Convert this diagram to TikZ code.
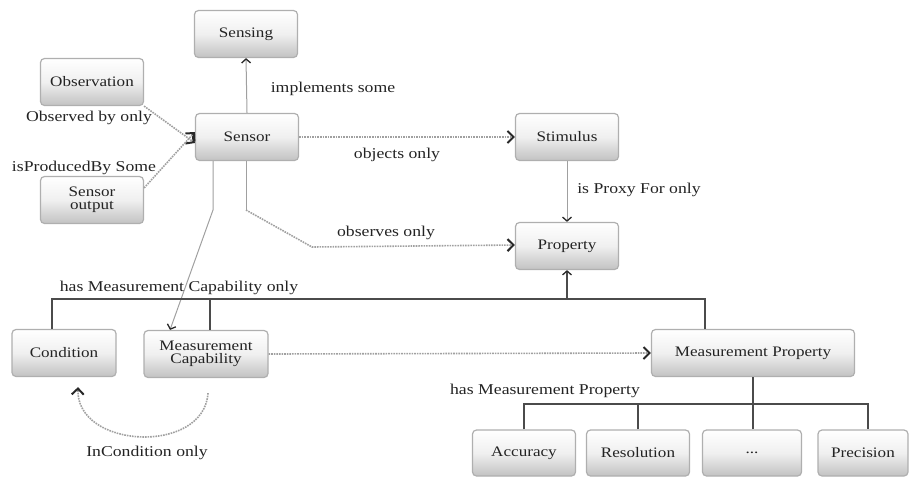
\documentclass[tikz,border=0pt]{standalone}
\usepackage{fontspec}
\setmainfont{Liberation Serif}[FakeStretch=1.18]
\usetikzlibrary{arrows.meta,calc}
\definecolor{txt}{RGB}{35,35,35}
\definecolor{nodeborder}{RGB}{175,175,175}
\definecolor{treeline}{RGB}{75,75,75}
\definecolor{thinline}{RGB}{160,160,160}
\definecolor{tipcol}{RGB}{40,40,40}
\tikzset{
  box/.style={draw=nodeborder, line width=1.2pt, rounded corners=4pt,
    top color=white, bottom color=black!24, middle color=black!6,
    minimum width=103pt, minimum height=47pt, align=center,
    text=txt, font=\fontsize{14.5}{15}\selectfont, inner sep=2pt},
  lbl/.style={text=txt, font=\fontsize{15}{16}\selectfont, inner sep=1pt},
  tip/.style={-{Straight Barb[length=4pt,width=9pt,line width=1.3pt,color=tipcol]}},
  dtip/.style={-{Straight Barb[length=6pt,width=12pt,line width=2pt,color=tipcol]}},
  dotline/.style={draw=thinline, densely dotted, line width=1.6pt},
  thin/.style={draw=thinline, line width=1pt},
  tree/.style={draw=treeline, line width=1.8pt},
}
\begin{document}
\begin{tikzpicture}[x=1pt,y=-1pt]
\useasboundingbox (0,0) rectangle (909,477);
% nodes
\node[box] (sensing) at (246,34) {Sensing};
\node[box] (observation) at (92,82) {Observation};
\node[box] (sensor) at (247,137) {Sensor};
\node[box, text width=80pt] (sensorout) at (92,200) {Sensor\\[-2pt]output};
\node[box] (stimulus) at (567,137) {Stimulus};
\node[box] (property) at (567,246) {Property};
\node[box, minimum width=104pt] (condition) at (64,353) {Condition};
\node[box, minimum width=124pt, text width=115pt] (mcap) at (206,354) {Measurement\\[-2pt]Capability};
\node[box, minimum width=203pt] (mprop) at (753,353) {Measurement Property};
\node[box, minimum height=46pt] (accuracy) at (524,453) {Accuracy};
\node[box, minimum height=46pt] (resolution) at (638,453) {Resolution};
\node[box, minimum width=99pt, minimum height=46pt] (dots) at (752,453) {...};
\node[box, minimum width=90pt, minimum height=46pt] (precision) at (863,453) {Precision};

% helper coordinates
\coordinate (obsbend) at (246,210);
\coordinate (obsmid) at (312,247);
\coordinate (capbend) at (213,210);

% connectors
\draw[thin, tip] (sensor.north) -- (sensing.south);
\draw[dotline, dtip] (observation.south east) -- ([yshift=-6pt]sensor.west);
\draw[dotline, dtip] ([yshift=-12pt]sensorout.north east) -- ([yshift=5pt]sensor.west);
\draw[dotline, dtip] (sensor.east) -- (stimulus.west);
\draw[thin, tip] (stimulus.south) -- (property.north);
\draw[thin] ([xshift=-1pt]sensor.south) -- (obsbend);
\draw[dotline, dtip] (obsbend) -- (obsmid) -- ([yshift=1pt]property.west);
\draw[thin, tip] ([xshift=-34pt]sensor.south) -- (capbend) -- ([xshift=-36pt]mcap.north);

% upper tree
\draw[tree] ([xshift=-12pt]condition.north) -- ++(0,-30) coordinate (hl) -| ([xshift=-48pt]mprop.north);
\draw[tree] ([xshift=4pt]mcap.north) -- ([xshift=4pt]mcap.north |- hl);
\draw[tree, tip] (property.south |- hl) -- (property.south);

% capability -> property
\draw[dotline, dtip] (mcap.east) -- (mprop.west);

% lower tree
\draw[tree] (mprop.south) -- ++(0,27) coordinate (hl2);
\draw[tree] (accuracy.north) -- (accuracy.north |- hl2) -- ([xshift=5pt]precision.north |- hl2) -- ([xshift=5pt]precision.north);
\draw[tree] (resolution.north) -- (resolution.north |- hl2);
\draw[tree] ([xshift=1pt]dots.north) -- ([xshift=1pt]dots.north |- hl2);

% InCondition loop
\draw[dotline, dtip]
  ([shift={(2,15)}]mcap.south) .. controls +(-4,62) and +(-2,62) .. ([shift={(14,10)}]condition.south);

% labels
\node[lbl] (limpl) at (333,89) {implements some};
\node[lbl] (lobs) at (89,118) {Observed by only};
\node[lbl] (lprod) at (84,168) {isProducedBy Some};
\node[lbl] (lobj) at (397,155) {objects only};
\node[lbl] (lproxy) at (639,190) {is Proxy For only};
\node[lbl] (lobserves) at (386,233) {observes only};
\node[lbl] (lhascap) at (179,288) {has Measurement Capability only};
\node[lbl] (lhasprop) at (545,391) {has Measurement Property};
\node[lbl] (lincond) at (147,453) {InCondition only};
\end{tikzpicture}
\end{document}
